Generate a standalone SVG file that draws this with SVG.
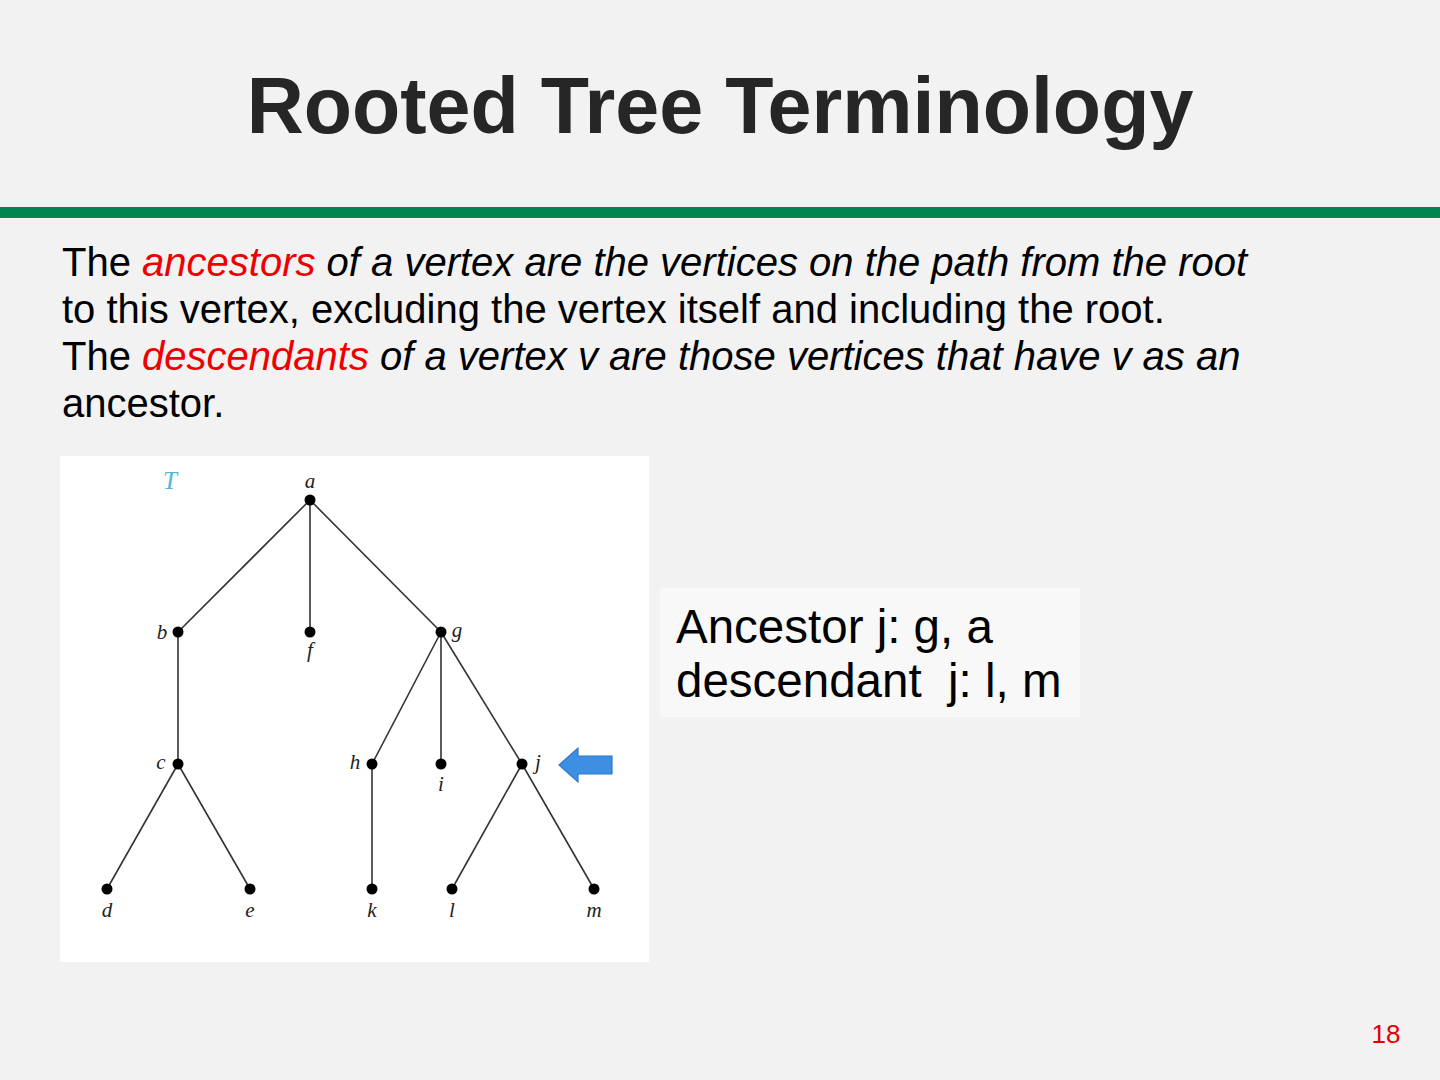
<svg xmlns="http://www.w3.org/2000/svg" width="1440" height="1080" viewBox="0 0 1440 1080">
<style>
.title{font-family:"Liberation Sans",Arial,sans-serif;font-weight:bold;font-size:79px;fill:#262626}
.body{font-family:"Liberation Sans",Arial,sans-serif;font-size:40px;fill:#000}
.it{font-style:italic}
.red{fill:#ee0000}
.box{font-family:"Liberation Sans",Arial,sans-serif;font-size:47.5px;fill:#000}
.lbl{font-family:"Liberation Serif","Times New Roman",serif;font-style:italic;font-size:21px;fill:#222;text-anchor:middle}
.edge{stroke:#333;stroke-width:1.6;fill:none}
.node{fill:#000}
</style>
<rect x="0" y="0" width="1440" height="1080" fill="#f2f2f2"/>
<text class="title" x="720" y="133" text-anchor="middle">Rooted Tree Terminology</text>
<rect x="0" y="207" width="1440" height="11" fill="#008650"/>
<g id="definition">
<text class="body" x="62" y="276">The <tspan class="it red">ancestors</tspan><tspan class="it"> of a vertex are the vertices on the path from the root</tspan></text>
<text class="body" x="62" y="323">to this vertex, excluding the vertex itself and including the root.</text>
<text class="body" x="62" y="370">The <tspan class="it red">descendants</tspan><tspan class="it"> of a vertex v are those vertices that have v as an</tspan></text>
<text class="body" x="62" y="417">ancestor.</text>
</g>
<rect x="60" y="456" width="589" height="506" fill="#ffffff"/>
<text x="170" y="489" font-family="Liberation Serif,serif" font-style="italic" font-size="25" fill="#4fb8d8" text-anchor="middle">T</text>
<g id="connectors">
<line class="edge" x1="310" y1="500" x2="178" y2="632"/>
<line class="edge" x1="310" y1="500" x2="310" y2="632"/>
<line class="edge" x1="310" y1="500" x2="441" y2="632"/>
<line class="edge" x1="178" y1="632" x2="178" y2="764"/>
<line class="edge" x1="441" y1="632" x2="372" y2="764"/>
<line class="edge" x1="441" y1="632" x2="441" y2="764" stroke="#555" stroke-width="2.2"/>
<line class="edge" x1="441" y1="632" x2="522" y2="764"/>
<line class="edge" x1="178" y1="764" x2="107" y2="889"/>
<line class="edge" x1="178" y1="764" x2="250" y2="889"/>
<line class="edge" x1="372" y1="764" x2="372" y2="889" stroke-width="2.2"/>
<line class="edge" x1="522" y1="764" x2="452" y2="889"/>
<line class="edge" x1="522" y1="764" x2="594" y2="889"/>
</g>
<g id="node-a"><circle class="node" cx="310" cy="500" r="5.5"/><text class="lbl" x="310" y="488">a</text></g>
<g id="node-b"><circle class="node" cx="178" cy="632" r="5.5"/><text class="lbl" x="162" y="639">b</text></g>
<g id="node-f"><circle class="node" cx="310" cy="632" r="5.5"/><text class="lbl" x="310" y="657">f</text></g>
<g id="node-g"><circle class="node" cx="441" cy="632" r="5.5"/><text class="lbl" x="457" y="637">g</text></g>
<g id="node-c"><circle class="node" cx="178" cy="764" r="5.5"/><text class="lbl" x="161" y="769">c</text></g>
<g id="node-h"><circle class="node" cx="372" cy="764" r="5.5"/><text class="lbl" x="355" y="769">h</text></g>
<g id="node-i"><circle class="node" cx="441" cy="764" r="5.5"/><text class="lbl" x="441" y="791">i</text></g>
<g id="node-j"><circle class="node" cx="522" cy="764" r="5.5"/><text class="lbl" x="538" y="769">j</text></g>
<g id="node-d"><circle class="node" cx="107" cy="889" r="5.5"/><text class="lbl" x="107" y="917">d</text></g>
<g id="node-e"><circle class="node" cx="250" cy="889" r="5.5"/><text class="lbl" x="250" y="917">e</text></g>
<g id="node-k"><circle class="node" cx="372" cy="889" r="5.5"/><text class="lbl" x="372" y="917">k</text></g>
<g id="node-l"><circle class="node" cx="452" cy="889" r="5.5"/><text class="lbl" x="452" y="917">l</text></g>
<g id="node-m"><circle class="node" cx="594" cy="889" r="5.5"/><text class="lbl" x="594" y="917">m</text></g>
<g id="pointer">
<polygon points="559,765 578,748 578,756 612,756 612,774 578,774 578,782" fill="#3d8fe2" stroke="#2f78c8" stroke-width="1.2"/>
</g>
<g id="note">
<rect x="660" y="588" width="420" height="129" fill="#f8f8f8"/>
<text class="box" x="676" y="643">Ancestor j: g, a</text>
<text class="box" x="676" y="697" xml:space="preserve">descendant  j: l, m</text>
</g>
<text x="1386" y="1043" font-family="Liberation Sans,Arial,sans-serif" font-size="26" fill="#e00000" text-anchor="middle">18</text>
</svg>
